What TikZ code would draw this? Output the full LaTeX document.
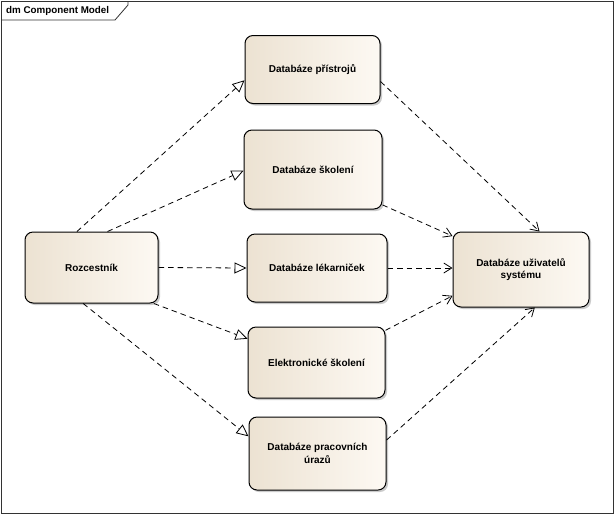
\documentclass[tikz,border=0pt]{standalone}
\usepackage{fontspec}
\setmainfont{Liberation Sans}
\usetikzlibrary{arrows.meta,shadows}
\definecolor{boxL}{RGB}{236,226,210}
\definecolor{boxR}{RGB}{253,249,243}
\tikzset{
  comp/.style={rectangle, rounded corners=8pt, draw=black, line width=1pt,
    left color=boxL, right color=boxR, inner sep=0pt, align=center,
    font=\bfseries\fontsize{10}{12.5}\selectfont,
    drop shadow={shadow xshift=2pt, shadow yshift=-2pt, fill=black!40, opacity=0.5}},
  dep/.style={draw=black, line width=0.8pt, dash pattern=on 5.5pt off 4pt},
  real/.style={dep, -{Triangle[open, length=12pt, width=11pt, fill=white, line width=0.8pt]}},
  use/.style={dep, -{Straight Barb[length=8pt, width=10pt, line width=0.8pt]}}
}
\begin{document}
\begin{tikzpicture}[x=1pt,y=-1pt]
\useasboundingbox (0,0) rectangle (615,515);
\fill[white] (0,0) rectangle (615,515);
% frame
\draw[line width=0.8pt, black!80] (1,1) rectangle (613,513);
\draw[line width=0.8pt, black!80] (1,20) -- (115,20) -- (128,5) -- (128,1);
\node[anchor=west, font=\bfseries\fontsize{9.8}{12}\selectfont, inner sep=0pt] (title) at (6,10.5) {dm Component Model};
% nodes
\node[comp, minimum width=135pt, minimum height=68pt] (p) at (312.5,69.5) {Databáze přístrojů};
\node[comp, minimum width=138pt, minimum height=79pt] (s) at (313,169.5) {Databáze školení};
\node[comp, minimum width=140pt, minimum height=68pt] (l) at (317,268) {Databáze lékarniček};
\node[comp, minimum width=137pt, minimum height=71pt] (e) at (316.5,362.5) {Elektronické školení};
\node[comp, minimum width=137pt, minimum height=73pt] (w) at (317.5,453.5) {Databáze pracovních\\úrazů};
\node[comp, minimum width=133pt, minimum height=71pt] (r) at (91.5,267.5) {Rozcestník};
\node[comp, minimum width=136pt, minimum height=75pt] (u) at (521,269.5) {Databáze uživatelů\\systému};
% connectors from Rozcestnik
\draw[real] (r.112) -- (p.189);
\draw[real] (r.66) -- (s.181);
\draw[real] (r.east) -- (l.west);
\draw[real] (r.-30) -- (e.161);
\draw[real] (r.257) -- (w.166);
% connectors to uzivatelu
\draw[use] (p.-10) -- (u.64);
\draw[use] (s.-27) -- (u.154);
\draw[use] (l.east) -- (l.east -| u.west);
\draw[use] (e.25) -- (u.201);
\draw[use] (w.11) -- (u.290);
\end{tikzpicture}
\end{document}
